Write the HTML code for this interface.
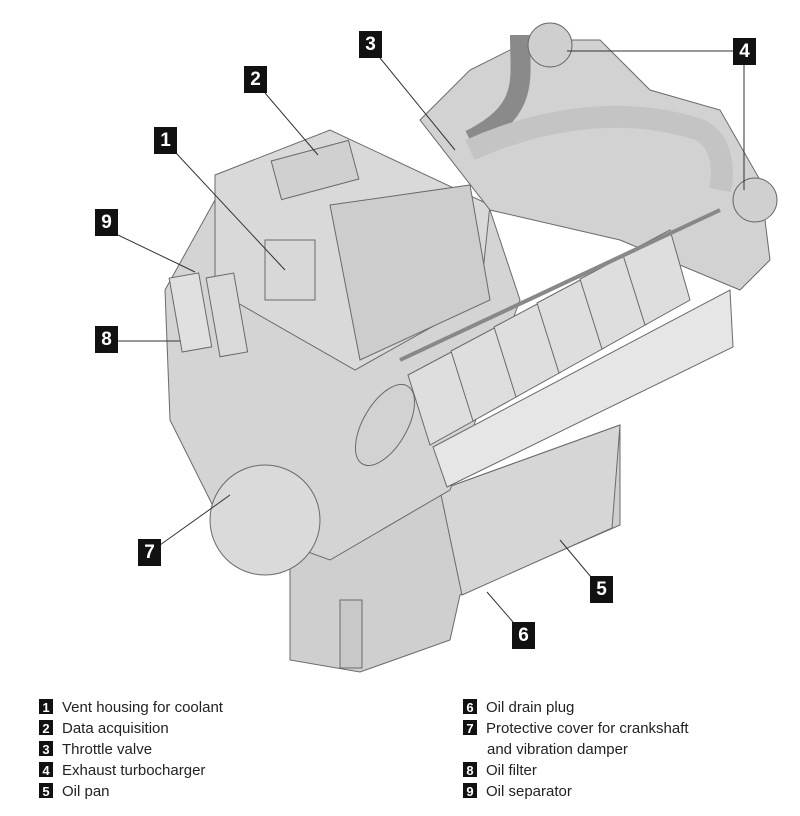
<!DOCTYPE html>
<html><head><style>
body{margin:0;background:#fff;width:800px;height:816px;overflow:hidden;font-family:"Liberation Sans",Arial,sans-serif}
.b{position:absolute;background:#111;color:#fff;font-weight:bold;font-size:19px;width:23px;height:27px;line-height:27px;text-align:center}
.lg{position:absolute;font-size:15px;color:#222;line-height:21px}
.lg i{display:inline-block;background:#111;color:#fff;font-style:normal;font-weight:bold;font-size:13px;width:14px;height:15px;line-height:17px;text-align:center;margin-right:9px;vertical-align:-2px;overflow:hidden}
</style></head><body>
<svg width="800" height="690" style="position:absolute;left:0;top:0" stroke="#6a6a6a" stroke-width="1">
<polygon points="290,560 440,490 620,425 620,525 460,595 450,640 360,672 290,660" fill="#cfcfcf"/>
<polygon points="440,490 620,425 612,528 462,595" fill="#d6d6d6"/>
<rect x="340" y="600" width="22" height="68" fill="#c8c8c8"/>
<polygon points="165,290 215,200 330,140 490,210 520,300 450,490 330,560 220,520 170,420" fill="#d4d4d4"/>
<polygon points="215,175 330,130 490,205 480,300 355,370 215,290" fill="#d9d9d9"/>
<polygon points="330,205 470,185 490,300 360,360" fill="#cdcdcd"/>
<rect x="275" y="150" width="80" height="40" fill="#d0d0d0" transform="rotate(-15 315 170)"/>
<polygon points="420,120 470,70 530,40 600,40 650,90 720,110 760,180 770,260 740,290 620,240 490,210" fill="#d2d2d2"/>
<path d="M520 35 C520 80 530 110 470 140" stroke="#8a8a8a" stroke-width="20" fill="none"/>
<path d="M470 150 C560 110 640 110 700 130 C720 140 725 165 720 190" stroke="#c4c4c4" stroke-width="22" fill="none"/>
<circle cx="550" cy="45" r="22" fill="#cfcfcf"/>
<circle cx="755" cy="200" r="22" fill="#d0d0d0"/>
<g fill="#dedede">
<polygon points="408,375 455,350 475,420 430,445"/>
<polygon points="451,351 498,326 518,396 473,421"/>
<polygon points="494,327 541,302 561,372 516,397"/>
<polygon points="537,303 584,278 604,348 559,373"/>
<polygon points="580,279 627,254 647,324 602,349"/>
<polygon points="623,255 670,230 690,300 645,325"/>
</g>
<line x1="400" y1="360" x2="720" y2="210" stroke="#888" stroke-width="4"/>
<polygon points="433,447 730,290 733,347 447,487" fill="#e6e6e6"/>
<ellipse cx="385" cy="425" rx="22" ry="45" fill="#d2d2d2" transform="rotate(30 385 425)"/>
<rect x="175" y="275" width="30" height="75" fill="#e0e0e0" transform="rotate(-10 190 310)"/>
<rect x="212" y="275" width="28" height="80" fill="#dadada" transform="rotate(-10 226 310)"/>
<rect x="265" y="240" width="50" height="60" fill="#d8d8d8"/>
<circle cx="265" cy="520" r="55" fill="#dadada"/>
</svg>
<svg width="800" height="690" style="position:absolute;left:0;top:0" stroke="#333" stroke-width="1" fill="none">
<line x1="176" y1="153" x2="285" y2="270"/>
<line x1="265" y1="93" x2="318" y2="155"/>
<line x1="380" y1="58" x2="455" y2="150"/>
<line x1="567" y1="51" x2="733" y2="51"/>
<line x1="744" y1="65" x2="744" y2="190"/>
<line x1="118" y1="235" x2="195" y2="272"/>
<line x1="118" y1="341" x2="180" y2="341"/>
<line x1="160" y1="545" x2="230" y2="495"/>
<line x1="591" y1="577" x2="560" y2="540"/>
<line x1="513" y1="622" x2="487" y2="592"/>
</svg>
<div class="b" style="left:154px;top:127px">1</div>
<div class="b" style="left:244px;top:66px">2</div>
<div class="b" style="left:359px;top:31px">3</div>
<div class="b" style="left:733px;top:38px">4</div>
<div class="b" style="left:590px;top:576px">5</div>
<div class="b" style="left:512px;top:622px">6</div>
<div class="b" style="left:138px;top:539px">7</div>
<div class="b" style="left:95px;top:326px">8</div>
<div class="b" style="left:95px;top:209px">9</div>
<div class="lg" style="left:39px;top:697px"><i>1</i>Vent housing for coolant<br><i>2</i>Data acquisition<br><i>3</i>Throttle valve<br><i>4</i>Exhaust turbocharger<br><i>5</i>Oil pan</div>
<div class="lg" style="left:463px;top:697px"><i>6</i>Oil drain plug<br><i>7</i>Protective cover for crankshaft<br><span style="margin-left:24px">and vibration damper</span><br><i>8</i>Oil filter<br><i>9</i>Oil separator</div>
</body></html>
